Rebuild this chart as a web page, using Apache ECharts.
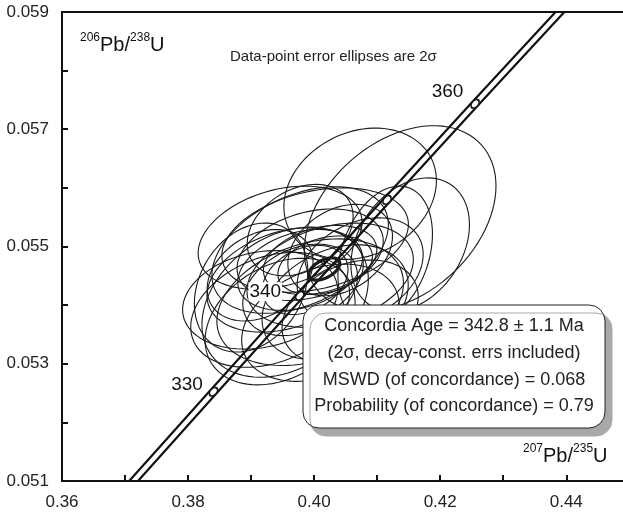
<!DOCTYPE html>
<html>
<head>
<meta charset="utf-8">
<script src="https://cdn.jsdelivr.net/npm/echarts@6/dist/echarts.min.js"></script>
<style>
html,body{margin:0;padding:0;background:#fff;}
#chart{width:623px;height:517px;}
</style>
</head>
<body>
<div id="chart"></div>
<script>
// ---- Data ----
// Concordia (decay curve) points at age ticks (Ma)
const concAges = [320, 330, 340, 350, 360, 370];
const concX = [0.370467, 0.384032, 0.397722, 0.411563, 0.425534, 0.439644];
const concY = [0.050893, 0.052523, 0.054158, 0.055795, 0.057434, 0.059075];
const concBandX = 0.0007;          // decay-constant error half-width in 207Pb/235U
const labelledAges = [330, 340, 360];
const markerAges = [330, 340, 350, 360];

// Data-point 2-sigma error ellipses
const ellCX = [0.41365,0.40730,0.41524,0.39460,0.39143,0.39302,0.39460,0.39778,0.40095,0.39937,0.40254,0.39778,0.39540,0.40413,0.40016,0.39778,0.40333,0.40730,0.39857,0.40175,0.39540,0.41127,0.39778,0.40571,0.39143,0.39937,0.39000,0.40100];
const ellCY = [0.05548,0.05590,0.05503,0.05515,0.05409,0.05392,0.05372,0.05460,0.05477,0.05486,0.05451,0.05426,0.05443,0.05494,0.05511,0.05494,0.05405,0.05460,0.05443,0.05468,0.05405,0.05486,0.05528,0.05388,0.05451,0.05405,0.05430,0.05370];
const ellErrX = [0.01520,0.01210,0.00940,0.01300,0.01230,0.01260,0.01190,0.00990,0.00900,0.01160,0.01320,0.00910,0.01240,0.00830,0.01480,0.01400,0.01160,0.01000,0.00680,0.00750,0.01320,0.00750,0.00840,0.01080,0.00840,0.01480,0.00900,0.01250];
const ellErrY = [0.00158,0.00112,0.00114,0.00088,0.00084,0.00098,0.00108,0.00069,0.00059,0.00078,0.00089,0.00078,0.00089,0.00078,0.00089,0.00108,0.00098,0.00089,0.00059,0.00050,0.00128,0.00117,0.00078,0.00089,0.00078,0.00108,0.00110,0.00100];
const ellRho = [0.35,0.2,0.3,0.3,0.2,0.3,0.3,0.3,0.3,0.3,0.3,0.3,0.3,0.3,0.3,0.4,0.3,0.3,0.3,0.3,0.3,0.3,0.3,0.3,0.3,0.3,0.25,0.3];

// Concordia age ellipse
const concAgeEll = [0.40160, 0.054616, 0.00246, 0.00019, 0.5];

// Axis settings
const xMin = 0.36, xMax = 0.449, xStep = 0.01;
const yMin = 0.051, yMax = 0.059, yStep = 0.001;

const boxLines = [
  'Concordia Age = 342.8 \u00b1 1.1 Ma',
  '(2\u03c3, decay-const. errs included)',
  'MSWD (of concordance) = 0.068',
  'Probability (of concordance) = 0.79'
];

// ---- Build ----
const FONT = '"Liberation Sans", Arial, sans-serif';
const ellData = ellCX.map((x, i) => [x, ellCY[i], ellErrX[i], ellErrY[i], ellRho[i]]);

function ellipseRender(lw) {
  return function (params, api) {
    const cx = api.value(0), cy = api.value(1), a = api.value(2), b = api.value(3), r = api.value(4);
    const s = Math.sqrt(1 - r * r);
    const pts = [];
    const N = 90;
    for (let k = 0; k < N; k++) {
      const t = k / N * Math.PI * 2;
      pts.push(api.coord([cx + a * Math.cos(t), cy + b * (r * Math.cos(t) + s * Math.sin(t))]));
    }
    return {
      type: 'polygon',
      shape: { points: pts },
      style: { fill: 'none', stroke: '#1a1a1a', lineWidth: lw }
    };
  };
}

const bandLeft = concX.map((x, i) => [x - concBandX, concY[i]]);
const bandRight = concX.map((x, i) => [x + concBandX, concY[i]]);
const markerData = markerAges.map(age => {
  const i = concAges.indexOf(age);
  const show = labelledAges.indexOf(age) >= 0;
  const offs = { 330: [3, -7], 340: [-5, -4], 360: [2, -12] };
  return {
    value: [concX[i], concY[i], age],
    label: show ? { show: true, offset: offs[age] } : { show: false }
  };
});

const chart = echarts.init(document.getElementById('chart'), null, { renderer: 'canvas' });
chart.setOption({
  backgroundColor: '#fff',
  animation: false,
  grid: { left: 62, right: 0, top: 12, bottom: 36 },
  xAxis: [{
    type: 'value', min: xMin, max: xMax, interval: xStep, position: 'bottom',
    axisLine: { onZero: false, lineStyle: { color: '#111', width: 2 } },
    axisTick: { inside: true, length: 6, lineStyle: { color: '#111', width: 2 } },
    splitLine: { show: false },
    axisLabel: {
      fontFamily: FONT, fontSize: 17, color: '#222', margin: 13, showMaxLabel: false,
      formatter: v => (Math.round(v * 100) % 2 === 0 ? v.toFixed(2) : '')
    }
  }, {
    type: 'value', min: xMin, max: xMax, position: 'top',
    axisLine: { onZero: false, lineStyle: { color: '#111', width: 2 } },
    axisTick: { show: false }, axisLabel: { show: false }, splitLine: { show: false }
  }],
  yAxis: {
    type: 'value', min: yMin, max: yMax, interval: yStep,
    axisLine: { onZero: false, lineStyle: { color: '#111', width: 2 } },
    axisTick: { inside: true, length: 6, lineStyle: { color: '#111', width: 2 } },
    splitLine: { show: false },
    axisLabel: {
      fontFamily: FONT, fontSize: 17, color: '#222', margin: 13,
      formatter: v => (Math.round(v * 1000) % 2 === 1 ? v.toFixed(3) : '')
    }
  },
  series: [
    {
      type: 'custom', name: 'ellipses', data: ellData, z: 2, clip: true,
      encode: { x: 0, y: 1 }, renderItem: ellipseRender(1.1), silent: true
    },
    {
      type: 'line', data: bandLeft, symbol: 'none', z: 3, clip: true,
      lineStyle: { color: '#111', width: 2.2 }
    },
    {
      type: 'line', data: bandRight, symbol: 'none', z: 3, clip: true,
      lineStyle: { color: '#111', width: 2.2 }
    },
    {
      type: 'scatter', data: markerData, z: 4,
      symbol: 'circle', symbolSize: [10, 6], symbolRotate: 48,
      itemStyle: { color: '#fff', borderColor: '#111', borderWidth: 1.5, opacity: 1 },
      label: {
        position: 'left', distance: 6, formatter: p => String(p.value[2]),
        fontFamily: FONT, fontSize: 19, color: '#111', opacity: 1,
        backgroundColor: '#fff', padding: [0, 1, 0, 1]
      }
    },
    {
      type: 'custom', name: 'concordiaAge', data: [concAgeEll], z: 5,
      encode: { x: 0, y: 1 }, renderItem: ellipseRender(3.2), silent: true
    }
  ],
  graphic: [
    {
      type: 'text', left: 80, top: 32, z: 50,
      style: {
        text: '{s|206}{m|Pb/}{s|238}{m|U}',
        rich: {
          s: { fontFamily: FONT, fontSize: 12, fill: '#111', verticalAlign: 'top', lineHeight: 23 },
          m: { fontFamily: FONT, fontSize: 20, fill: '#111', verticalAlign: 'bottom', lineHeight: 23 }
        }
      }
    },
    {
      type: 'text', left: 230, top: 49, z: 50,
      style: { text: 'Data-point error ellipses are 2\u03c3', fontFamily: FONT, fontSize: 15, fill: '#222' }
    },
    {
      type: 'text', left: 523, top: 443, z: 50,
      style: {
        text: '{s|207}{m|Pb/}{s|235}{m|U}',
        rich: {
          s: { fontFamily: FONT, fontSize: 12, fill: '#111', verticalAlign: 'top', lineHeight: 23 },
          m: { fontFamily: FONT, fontSize: 20, fill: '#111', verticalAlign: 'bottom', lineHeight: 23 }
        }
      }
    },
    {
      type: 'group', z: 100,
      children: [
        {
          type: 'rect', z: 100,
          shape: { x: 303, y: 305, width: 302, height: 123, r: 16 },
          style: {
            fill: '#fff', stroke: '#222', lineWidth: 1,
            shadowColor: '#a8a8a8', shadowOffsetX: 7, shadowOffsetY: 8, shadowBlur: 0
          }
        }
      ].concat(boxLines.map((t, i) => ({
        type: 'text', z: 101,
        x: 454, y: 326 + i * 26.8,
        style: { text: t, fontFamily: FONT, fontSize: 18, fill: '#222', align: 'center', verticalAlign: 'middle' }
      })))
    }
  ]
});
</script>
</body>
</html>
